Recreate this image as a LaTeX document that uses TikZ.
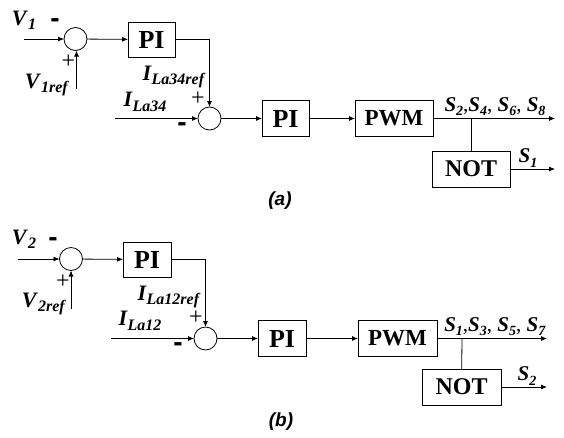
\documentclass[tikz,border=0pt]{standalone}
\usepackage{fontspec}
\setmainfont{Liberation Serif}
\newfontfamily\arialf{Liberation Sans}
\usetikzlibrary{arrows.meta}
\newcommand\lbl[2]{{\fontsize{22}{22}\selectfont\textbf{\textit{#1}}}\raisebox{-0.45ex}{\fontsize{16}{16}\selectfont\textbf{\textit{#2}}}}
\newcommand\slbl[2]{\textbf{\textit{#1}}\raisebox{-0.5ex}{\fontsize{14}{14}\selectfont\textbf{\textit{#2}}}}
\begin{document}
\begin{tikzpicture}[x=1pt,y=-1pt,
  every node/.style={inner sep=0pt,outer sep=0pt},
  sumnode/.style={draw,circle,minimum size=23pt,line width=0.8pt},
  blk/.style={draw,rectangle,line width=0.8pt,font=\fontsize{23}{23}\selectfont\bfseries},
  pifont/.style={font=\fontsize{26}{26}\selectfont\bfseries},
  notfont/.style={font=\fontsize{24}{24}\selectfont\bfseries},
  wire/.style={line width=0.8pt},
  arr/.style={wire,-{Latex[length=6pt,width=5pt]}},
  sig/.style={font=\fontsize{21}{21}\selectfont},
  plus/.style={font=\fontsize{24}{24}\selectfont},
  minus/.style={font=\arialf\fontsize{28}{28}\selectfont\bfseries},
  captxt/.style={font=\arialf\fontsize{19}{19}\selectfont\bfseries\itshape}]
\useasboundingbox (0,0) rectangle (564,437);
% ---------- (a) ----------
\node[sumnode] (sa1) at (75.5,39) {};
\node[blk,pifont,minimum width=47pt,minimum height=35pt] (pa1) at (151.5,39.5) {PI};
\node[sumnode] (sa2) at (209.5,118.5) {};
\node[blk,pifont,minimum width=47pt,minimum height=36pt] (pa2) at (285.5,118.5) {PI};
\node[blk,minimum width=78pt,minimum height=36pt] (pwa) at (394,118.5) {PWM};
\node[blk,notfont,minimum width=78pt,minimum height=36pt] (nta) at (471,169) {NOT};
\coordinate (ina1) at (24,39);
\coordinate (refa1) at (76.5,89);
\coordinate (ina2) at (115,118.5);
\coordinate (bra) at (471,118.5);
\coordinate (outa1) at (555,118.5);
\coordinate (outa2) at (555,169);
\draw[arr] (ina1) -- (sa1);
\draw[arr] (refa1) -- (refa1 |- sa1.south);
\draw[arr] (sa1) -- (pa1);
\draw[arr] (pa1.east) -| (sa2);
\draw[arr] (ina2) -- (sa2);
\draw[arr] (sa2) -- (pa2);
\draw[arr] (pa2) -- (pwa);
\draw[arr] (pwa) -- (outa1);
\draw[wire] (bra) -- (nta);
\draw[arr] (nta) -- (outa2);
\node[sig] (va1) at (24,20) {\lbl{V}{1}};
\node[minus] (ma1) at (55,23) {-};
\node[plus] (pla1) at (68.5,62) {+};
\node[sig] (vra1) at (47,85) {\lbl{V}{1ref}};
\node[sig] (ira1) at (174,77) {\lbl{I}{La34ref}};
\node[plus] (pla2) at (198,99) {+};
\node[sig] (ia1) at (145,102) {\lbl{I}{La34}};
\node[minus] (ma2) at (182,127) {-};
\node[sig,anchor=south] (sga1) at (495,116) {\slbl{S}{2},\slbl{S}{4}, \slbl{S}{6}, \slbl{S}{8}};
\node[sig,anchor=south] (sga2) at (528,167) {\slbl{S}{1}};
\node[captxt] (capa) at (280,201) {(a)};
% ---------- (b) ----------
\node[sumnode] (sb1) at (71,259) {};
\node[blk,pifont,minimum width=48pt,minimum height=35pt] (pb1) at (147,259.5) {PI};
\node[sumnode] (sb2) at (205.5,338.5) {};
\node[blk,pifont,minimum width=48pt,minimum height=36pt] (pb2) at (282,338.5) {PI};
\node[blk,minimum width=79pt,minimum height=36pt] (pwb) at (397.5,338.5) {PWM};
\node[blk,notfont,minimum width=79pt,minimum height=36pt] (ntb) at (461.5,387) {NOT};
\coordinate (inb1) at (18,259);
\coordinate (refb1) at (71,309);
\coordinate (inb2) at (111,338.5);
\coordinate (brb) at (462,338.5);
\coordinate (outb1) at (547,338.5);
\coordinate (outb2) at (547,387);
\draw[arr] (inb1) -- (sb1);
\draw[arr] (refb1) -- (sb1);
\draw[arr] (sb1) -- (pb1);
\draw[arr] (pb1.east) -| (sb2);
\draw[arr] (inb2) -- (sb2);
\draw[arr] (sb2) -- (pb2);
\draw[arr] (pb2) -- (pwb);
\draw[arr] (pwb) -- (outb1);
\draw[wire] (brb) -- (ntb);
\draw[arr] (ntb) -- (outb2);
\node[sig] (vb1) at (24,239) {\lbl{V}{2}};
\node[minus] (mb1) at (53,242) {-};
\node[plus] (plb1) at (63,282) {+};
\node[sig] (vrb1) at (44,304) {\lbl{V}{2ref}};
\node[sig] (irb1) at (169,297) {\lbl{I}{La12ref}};
\node[plus] (plb2) at (196,318) {+};
\node[sig] (ib1) at (140,321) {\lbl{I}{La12}};
\node[minus] (mb2) at (178,347) {-};
\node[sig,anchor=south] (sgb1) at (495,336) {\slbl{S}{1},\slbl{S}{3}, \slbl{S}{5}, \slbl{S}{7}};
\node[sig,anchor=south] (sgb2) at (527,385) {\slbl{S}{2}};
\node[captxt] (capb) at (281,422) {(b)};
\end{tikzpicture}
\end{document}
